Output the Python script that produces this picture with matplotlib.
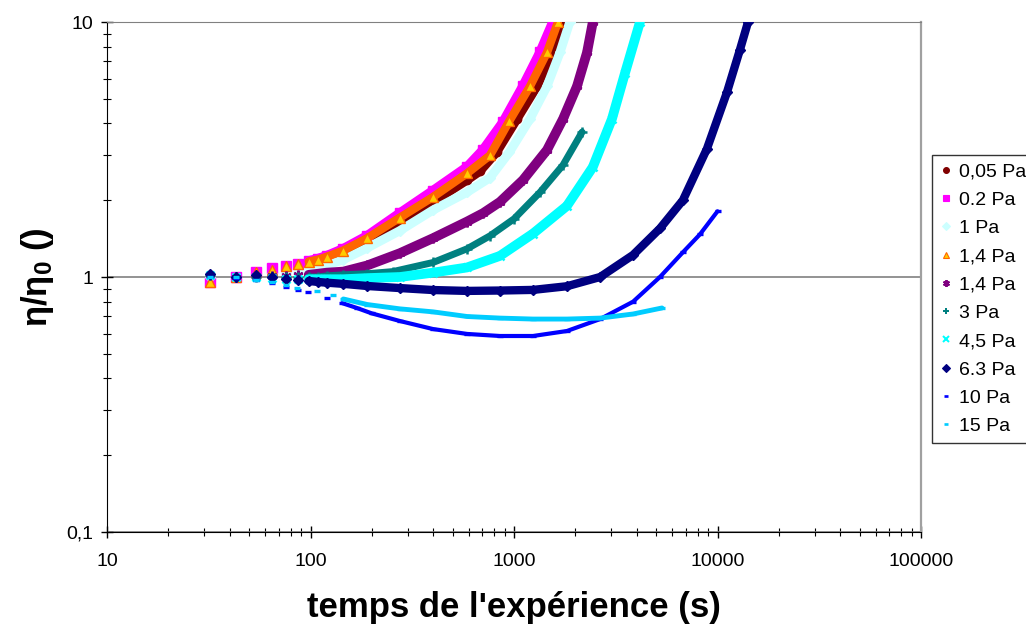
import numpy as np
import matplotlib
matplotlib.use("Agg")
import matplotlib.pyplot as plt
from matplotlib.lines import Line2D
from matplotlib.ticker import FixedLocator, LogLocator, NullFormatter

# data: time (s) and relative viscosity eta/eta0
t_005 = [32, 43, 54, 65, 76, 87, 98, 109, 120, 145, 190, 275, 400, 588, 680, 822, 1035, 1297, 1555, 1780]
eta_005 = [1.0, 1.0, 1.04, 1.06, 1.08, 1.10, 1.12, 1.15, 1.18, 1.24, 1.38, 1.63, 1.97, 2.4, 2.6, 3.09,
           4.17, 5.6, 7.6, 10.0]

t_02 = [32, 43, 54, 65, 76, 87, 98, 109, 120, 145, 190, 275, 400, 588, 705, 884, 1107, 1343, 1555]
eta_02 = [0.96, 1.0, 1.05, 1.085, 1.10, 1.12, 1.155, 1.18, 1.21, 1.29, 1.45, 1.78, 2.18, 2.7, 3.15,
          4.05, 5.6, 7.6, 10.0]

t_1 = [32, 43, 54, 65, 76, 87, 98, 109, 120, 145, 190, 275, 400, 588, 762, 950, 1199, 1453, 1683, 1880]
eta_1 = [1.0, 1.0, 1.02, 1.03, 1.04, 1.05, 1.07, 1.09, 1.11, 1.17, 1.30, 1.52, 1.83, 2.15, 2.45, 3.09,
         4.17, 5.6, 7.6, 10.0]

t_14a = [32, 43, 54, 65, 76, 87, 98, 109, 120, 145, 190, 275, 400, 588, 762, 950, 1199, 1453, 1645]
eta_14a = [0.96, 1.0, 1.05, 1.07, 1.10, 1.125, 1.15, 1.17, 1.20, 1.27, 1.42, 1.71, 2.06, 2.55, 3.0,
           4.1, 5.6, 7.6, 10.0]

t_14b = [32, 43, 54, 65, 76, 87, 98, 109, 120, 145, 190, 275, 400, 588, 705, 853, 1107, 1453, 1742,
         2040, 2285, 2440]
eta_14b = [1.02, 1.0, 1.01, 1.01, 1.01, 1.02, 1.02, 1.03, 1.04, 1.05, 1.11, 1.24, 1.42, 1.65, 1.78,
           1.97, 2.4, 3.15, 4.17, 5.6, 7.6, 10.0]

t_3 = [32, 43, 54, 65, 76, 87, 98, 109, 120, 145, 190, 254, 400, 588, 762, 1000, 1343, 1742, 2160]
eta_3 = [1.02, 1.0, 1.0, 1.0, 1.0, 1.0, 1.0, 1.0, 1.01, 1.02, 1.03, 1.05, 1.14, 1.29, 1.45, 1.69,
         2.15, 2.75, 3.7]

t_45 = [32, 43, 54, 65, 76, 87, 98, 109, 120, 145, 190, 275, 400, 588, 853, 1240, 1820, 2440, 3030,
        3510, 4160]
eta_45 = [1.02, 1.0, 1.0, 0.99, 0.98, 0.98, 0.98, 0.98, 0.98, 0.98, 0.99, 1.0, 1.04, 1.09, 1.21, 1.48,
          1.9, 2.7, 4.17, 6.3, 10.0]

t_63 = [32, 43, 54, 65, 76, 87, 98, 109, 120, 145, 190, 275, 400, 588, 853, 1240, 1820, 2650,
        3845, 5215, 6760, 8870, 11130, 12900, 14130]
eta_63 = [1.03, 1.0, 1.02, 1.0, 0.98, 0.973, 0.965, 0.956, 0.95, 0.94, 0.922, 0.905, 0.889, 0.882,
          0.885, 0.89, 0.92, 1.0, 1.22, 1.55, 2.0, 3.18, 5.3, 7.8, 10.0]

t_10 = [32, 43, 54, 65, 76, 87, 97, 120, 143, 169, 200, 275, 400, 588, 853, 1240, 1820, 2650,
        3845, 5215, 6760, 8200, 10000]
eta_10 = [1.0, 0.99, 0.97, 0.945, 0.915, 0.89, 0.873, 0.83, 0.79, 0.756, 0.72, 0.672, 0.625, 0.598,
          0.587, 0.587, 0.614, 0.684, 0.80, 1.0, 1.25, 1.47, 1.81]

t_15 = [32, 43, 54, 65, 76, 86, 108, 129, 145, 190, 275, 400, 588, 853, 1240, 1820, 2650, 3845, 5335]
eta_15 = [1.0, 1.0, 0.975, 0.955, 0.93, 0.905, 0.88, 0.85, 0.82, 0.78, 0.75, 0.73, 0.70, 0.69,
          0.684, 0.684, 0.69, 0.716, 0.756]

labels = ["0,05 Pa", "0.2 Pa", "1 Pa", "1,4 Pa", "1,4 Pa", "3 Pa", "4,5 Pa", "6.3 Pa", "10 Pa", "15 Pa"]

x_ticks = [10, 100, 1000, 10000, 100000]
x_tick_labels = ["10", "100", "1000", "10000", "100000"]
y_ticks = [0.1, 1, 10]
y_tick_labels = ["0,1", "1", "10"]

plt.rcParams["font.family"] = ["Liberation Sans", "DejaVu Sans"]
plt.rcParams["mathtext.fontset"] = "custom"
plt.rcParams["mathtext.rm"] = "Liberation Sans:bold"
plt.rcParams["mathtext.it"] = "Liberation Sans:bold"
plt.rcParams["mathtext.bf"] = "Liberation Sans:bold"

# (times, values, line color, band width, marker, face, edge, marker size, band starts at)
styles = [
    (t_005, eta_005, "#800000", 6.5, "o", "#800000", "#800000", 6.0, 95),
    (t_02, eta_02, "#FF00FF", 7.0, "s", "#FF00FF", "#FF00FF", 6.5, 95),
    (t_1, eta_1, "#CCFFFF", 6.5, "D", "#CCFFFF", "#CCFFFF", 5.5, 95),
    (t_14a, eta_14a, "#FF6600", 6.0, "^", "#FFCC00", "#FF6600", 7.0, 95),
    (t_14b, eta_14b, "#800080", 7.0, (6, 2, 0), "#800080", "#800080", 7.0, 95),
    (t_3, eta_3, "#008080", 5.0, "+", "#008080", "#008080", 7.0, 95),
    (t_45, eta_45, "#00FFFF", 7.0, "x", "#00FFFF", "#00FFFF", 6.0, 95),
    (t_63, eta_63, "#000080", 6.0, "D", "#000080", "#000080", 5.5, 95),
    (t_10, eta_10, "#0000FF", 3.0, "_", "#0000FF", "#0000FF", 4.0, 140),
    (t_15, eta_15, "#00CCFF", 3.5, "_", "#00CCFF", "#00CCFF", 5.0, 140),
]

fig = plt.figure(figsize=(10.26, 6.25), dpi=100)
ax = fig.add_axes([107 / 1026, 93 / 625, 814 / 1026, 510 / 625])
ax.set_xscale("log")
ax.set_yscale("log")
ax.set_xlim(10, 100000)
ax.set_ylim(0.1, 10)

handles = []
for i, (t, eta, col, bw, mk, fc, ec, ms, band_from) in enumerate(styles):
    t = np.asarray(t, dtype=float)
    eta = np.asarray(eta, dtype=float)
    dense = t >= band_from
    ax.plot(t[dense], eta[dense], color=col, lw=bw, solid_capstyle="round",
            solid_joinstyle="round", zorder=3 + i)
    mew = 2.4 if mk == "_" else (1.8 if mk in ("+", "x", (6, 2, 0)) else 1.0)
    ax.plot(t, eta, linestyle="none", marker=mk, ms=ms, mfc=fc, mec=ec, mew=mew, zorder=3 + i)
    handles.append(Line2D([], [], linestyle="none", marker=mk, ms=ms * 0.7, mfc=fc, mec=ec,
                          mew=mew * 0.8))

ax.xaxis.set_major_locator(FixedLocator(x_ticks))
ax.set_xticklabels(x_tick_labels)
ax.yaxis.set_major_locator(FixedLocator(y_ticks))
ax.set_yticklabels(y_tick_labels)
ax.xaxis.set_minor_locator(LogLocator(base=10, subs=range(2, 10), numticks=20))
ax.yaxis.set_minor_locator(LogLocator(base=10, subs=range(2, 10), numticks=20))
ax.xaxis.set_minor_formatter(NullFormatter())
ax.yaxis.set_minor_formatter(NullFormatter())

ax.tick_params(which="both", direction="inout", colors="black", labelsize=14)
ax.tick_params(which="major", length=8, width=1)
ax.tick_params(which="minor", length=6, width=0.8)
ax.tick_params(axis="x", pad=11)
ax.tick_params(axis="y", pad=6)

ax.set_axisbelow(True)
ax.yaxis.grid(True, which="major", color="#808080", lw=1.2)
ax.spines["top"].set_color("#808080")
ax.spines["right"].set_color("#A0A0A0")
ax.spines["right"].set_linewidth(1.6)
ax.spines["left"].set_color("black")
ax.spines["bottom"].set_color("black")

ax.set_xlabel("temps de l'expérience (s)", fontsize=25, fontweight="bold", labelpad=15)
ax.set_ylabel(r"$\eta/\eta_0$ ()", fontsize=25, fontweight="bold", labelpad=7)

leg = fig.legend(handles, labels, loc="upper left", bbox_to_anchor=(932 / 1026, 1 - 155 / 625),
                 frameon=True, fancybox=False, edgecolor="black", fontsize=14,
                 handlelength=0.6, handletextpad=0.4, labelspacing=0.55,
                 borderpad=0.4, borderaxespad=0)
leg.get_frame().set_linewidth(1.0)

fig.savefig("out.png", dpi=100)
